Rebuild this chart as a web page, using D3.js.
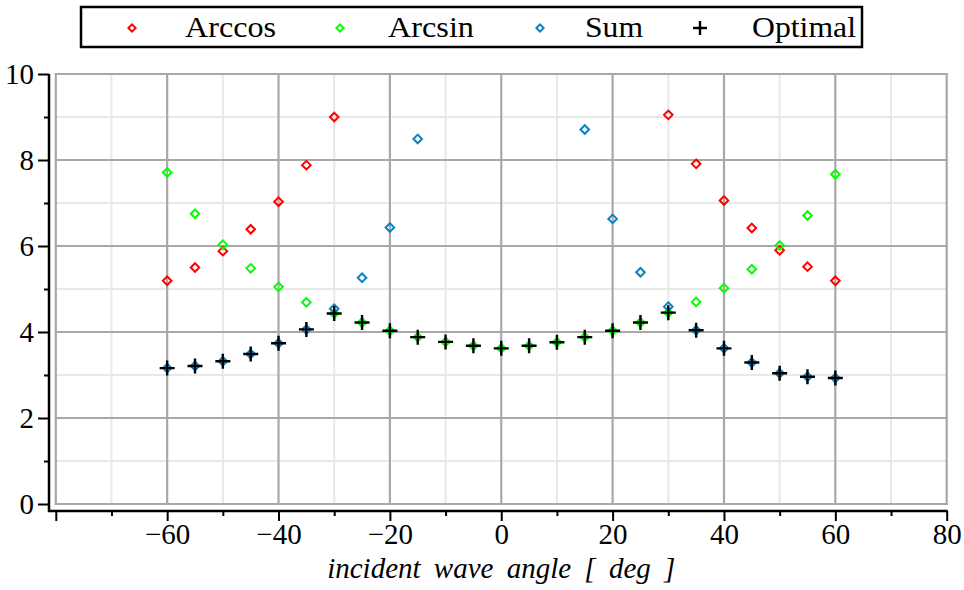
<!DOCTYPE html>
<html>
<head>
<meta charset="utf-8">
<script src="https://cdn.jsdelivr.net/npm/d3@7"></script>
<style>
  html, body { margin: 0; padding: 0; background: #fff; }
  svg { display: block; }
</style>
</head>
<body>
<svg id="chart" width="964" height="590"></svg>
<script>
// ---- data ----
const angles  = [-60,-55,-50,-45,-40,-35,-30,-25,-20,-15,-10,-5,0,5,10,15,20,25,30,35,40,45,50,55,60];
const arccos  = [5.19,5.50,5.88,6.39,7.03,7.88,9.00,null,null,null,null,null,null,null,null,null,null,null,9.05,7.91,7.06,6.42,5.90,5.52,5.19];
const arcsin  = [7.71,6.75,6.03,5.48,5.05,4.69,4.43,4.22,4.03,3.88,3.77,3.68,3.62,3.68,3.76,3.88,4.03,4.22,4.45,4.70,5.02,5.46,6.01,6.71,7.67];
const sumVals = [3.16,3.21,3.32,3.49,3.74,4.06,4.54,5.26,6.43,8.49,null,null,null,null,null,8.71,6.63,5.39,4.59,4.04,3.62,3.29,3.04,2.96,2.93];
const optimal = [3.16,3.21,3.32,3.49,3.74,4.06,4.43,4.22,4.03,3.88,3.77,3.68,3.62,3.68,3.76,3.88,4.03,4.22,4.45,4.04,3.62,3.29,3.04,2.96,2.93];
const xMajorTicks = [-80,-60,-40,-20,0,20,40,60,80];
const xMinorTicks = [-70,-50,-30,-10,10,30,50,70];
const yMajorTicks = [0,2,4,6,8,10];
const yMinorTicks = [1,3,5,7,9];
const seriesNames = ["Arccos","Arcsin","Sum","Optimal"];
const seriesColors = ["#ff0000","#00ff00","#0a82c3","#000000"];
const FONT = "'Liberation Serif', 'DejaVu Serif', serif";

// ---- layout ----
const svg = d3.select("#chart");
const x = d3.scaleLinear().domain([-80, 80]).range([55.8, 946.7]);
const y = d3.scaleLinear().domain([0, 10]).range([504, 74]);
const axisX = 49, axisY = 511;

// grid
const grid = svg.append("g");
grid.selectAll(".vmin").data(xMinorTicks).join("line")
  .attr("x1", d => x(d)).attr("x2", d => x(d)).attr("y1", y(10)).attr("y2", y(0))
  .attr("stroke", "#e8e8e8").attr("stroke-width", 2);
grid.selectAll(".hmin").data(yMinorTicks).join("line")
  .attr("y1", d => y(d)).attr("y2", d => y(d)).attr("x1", x(-80)).attr("x2", x(80))
  .attr("stroke", "#e8e8e8").attr("stroke-width", 2);
grid.selectAll(".vmaj").data(xMajorTicks).join("line")
  .attr("x1", d => x(d)).attr("x2", d => x(d)).attr("y1", y(10) - 1).attr("y2", y(0) + 1)
  .attr("stroke", "#a8a8a8").attr("stroke-width", 2.2);
grid.selectAll(".hmaj").data(yMajorTicks).join("line")
  .attr("y1", d => y(d)).attr("y2", d => y(d)).attr("x1", x(-80) - 1).attr("x2", x(80) + 1)
  .attr("stroke", "#a8a8a8").attr("stroke-width", 2.2);

// axes
const fmt = d => d < 0 ? "\u2212" + Math.abs(d) : String(d);
const gy = svg.append("g").attr("transform", `translate(${axisX},0)`);
gy.call(d3.axisLeft(y).tickValues(yMajorTicks).tickSize(11).tickPadding(4).tickFormat(fmt));
const gy2 = svg.append("g").attr("transform", `translate(${axisX},0)`);
gy2.call(d3.axisLeft(y).tickValues(yMinorTicks).tickSize(5).tickFormat(""));
const gx = svg.append("g").attr("transform", `translate(0,${axisY})`);
gx.call(d3.axisBottom(x).tickValues(xMajorTicks).tickSize(10).tickPadding(2)
  .tickFormat(d => d === -80 ? "" : fmt(d)));
const gx2 = svg.append("g").attr("transform", `translate(0,${axisY})`);
gx2.call(d3.axisBottom(x).tickValues(xMinorTicks).tickSize(5).tickFormat(""));
svg.selectAll(".domain").remove();
svg.selectAll(".tick line").attr("stroke", "#000").attr("stroke-width", 2);
svg.selectAll(".tick text").style("font-family", FONT).style("font-size", "29px").attr("fill", "#000");
svg.append("line").attr("x1", axisX).attr("x2", axisX).attr("y1", y(10)).attr("y2", axisY + 1)
  .attr("stroke", "#000").attr("stroke-width", 2.5);
svg.append("line").attr("x1", axisX - 1).attr("x2", x(80) + 1).attr("y1", axisY).attr("y2", axisY)
  .attr("stroke", "#000").attr("stroke-width", 2.5);

// axis title
svg.append("text").attr("x", (x(-80) + x(80)) / 2).attr("y", 578)
  .style("font-family", FONT).style("font-size", "29px").style("font-style", "italic")
  .attr("text-anchor", "middle")
  .attr("xml:space", "preserve").style("word-spacing", "6px")
  .text("incident wave angle [ deg ]");

// markers
const diamond = (s) => `M0,${-s}L${s},0L0,${s}L${-s},0Z`;
const plus = (s) => `M${-s},0H${s}M0,${-s}V${s}`;
function drawSeries(vals, color, isPlus) {
  const pts = angles.map((a, i) => ({a, v: vals[i]})).filter(d => d.v !== null && d.v <= 10);
  svg.append("g").selectAll("path").data(pts).join("path")
    .attr("transform", d => `translate(${x(d.a)},${y(d.v)})`)
    .attr("d", isPlus ? plus(7.5) : diamond(4.3))
    .attr("fill", "none").attr("stroke", color)
    .attr("stroke-width", isPlus ? 2.4 : 2);
}
drawSeries(arccos, seriesColors[0], false);
drawSeries(arcsin, seriesColors[1], false);
drawSeries(sumVals, seriesColors[2], false);
drawSeries(optimal, seriesColors[3], true);

// legend
const leg = svg.append("g");
leg.append("rect").attr("x", 81).attr("y", 7).attr("width", 781).attr("height", 40)
  .attr("fill", "#fff").attr("stroke", "#000").attr("stroke-width", 2.5);
const legMarkX = [132, 340, 540, 700];
const legTextX = [185, 388, 585, 752];
const legTextW = [91, 86, 58, 104];
seriesNames.forEach((n, i) => {
  leg.append("path").attr("transform", `translate(${legMarkX[i]},28)`)
    .attr("d", i === 3 ? plus(7) : diamond(3.6))
    .attr("fill", "none").attr("stroke", seriesColors[i]).attr("stroke-width", i === 3 ? 2.4 : 2);
  leg.append("text").attr("x", legTextX[i]).attr("y", 37)
    .style("font-family", FONT).style("font-size", "29px")
    .attr("textLength", legTextW[i]).attr("lengthAdjust", "spacingAndGlyphs").text(n);
});
</script>
</body>
</html>
